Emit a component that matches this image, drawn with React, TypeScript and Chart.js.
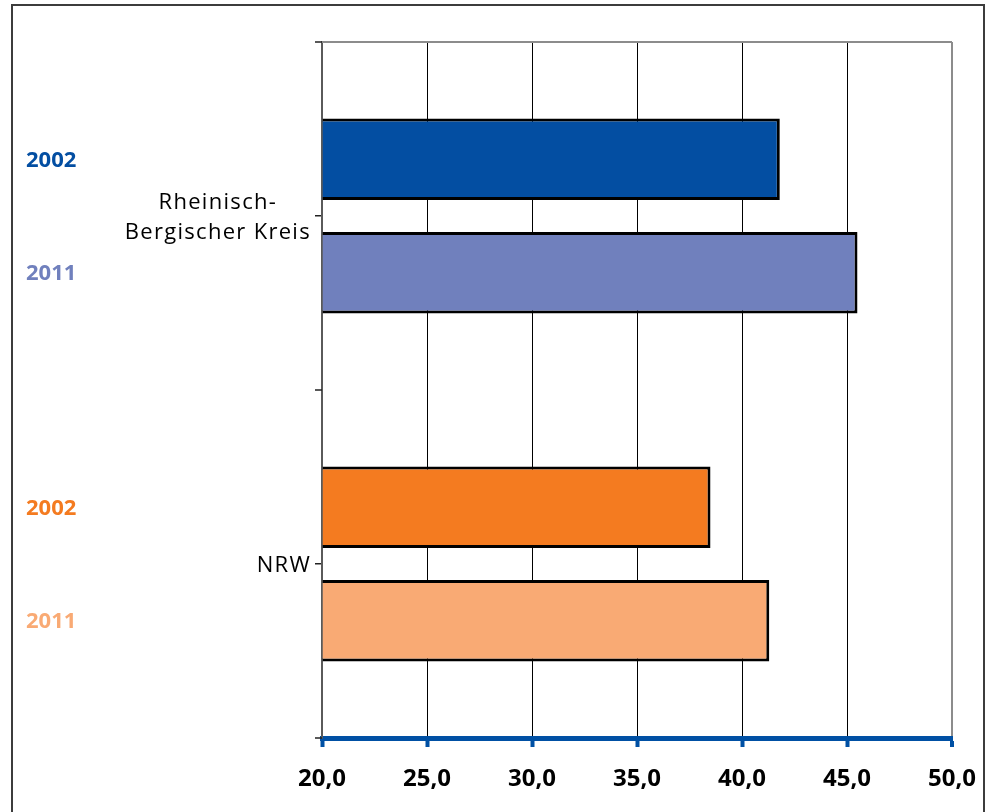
import React, { useEffect, useRef } from 'react';
import { Chart, registerables } from 'chart.js';

Chart.register(...registerables);

const categories: string[][] = [['Rheinisch-', 'Bergischer Kreis'], ['NRW']];
const seriesLabels = ['2002', '2011'];
const values2002 = [41.8, 38.5];
const values2011 = [45.5, 41.3];
const colors2002 = ['#034ea2', '#f47b20'];
const colors2011 = ['#7080bd', '#f9aa74'];
const xMin = 20;
const xMax = 50;
const xStep = 5;

const FONT = "'Open Sans', 'DejaVu Sans', sans-serif";

const decorPlugin = {
  id: 'decor',
  beforeDraw(chart: any) {
    const ctx = chart.ctx;
    ctx.save();
    ctx.fillStyle = '#ffffff';
    ctx.fillRect(0, 0, chart.width, chart.height);
    ctx.strokeStyle = '#3c3c3c';
    ctx.lineWidth = 2;
    ctx.strokeRect(12, 5, 972, 830);
    ctx.restore();
  },
  beforeDatasetsDraw(chart: any) {
    const { ctx, chartArea } = chart;
    ctx.save();
    ctx.strokeStyle = '#8c8c8c';
    ctx.lineWidth = 2;
    ctx.beginPath();
    ctx.moveTo(chartArea.left, chartArea.top);
    ctx.lineTo(chartArea.right, chartArea.top);
    ctx.stroke();
    const ys = chart.scales.y;
    const p0 = ys.getPixelForValue(0);
    const p1 = ys.getPixelForValue(1);
    const edges = [chartArea.top, (p0 + p1) / 2, chartArea.bottom];
    ctx.strokeStyle = '#222';
    ctx.lineWidth = 1.5;
    edges.forEach((e: number) => {
      ctx.beginPath();
      ctx.moveTo(chartArea.left - 7, e);
      ctx.lineTo(chartArea.left, e);
      ctx.stroke();
    });
    ctx.restore();
  },
  afterDraw(chart: any) {
    const { ctx, chartArea } = chart;
    const ys = chart.scales.y;
    ctx.save();
    // category labels: lines centered within block, block right-aligned
    ctx.font = `22px ${FONT}`;
    try {
      (ctx as any).letterSpacing = '1.3px';
    } catch (e) {}
    ctx.fillStyle = '#000';
    ctx.textAlign = 'center';
    ctx.textBaseline = 'middle';
    const lineH = 30;
    (chart.data.labels as string[][]).forEach((lines, i) => {
      const cy = ys.getPixelForValue(i) + 2;
      const widest = Math.max(...lines.map((l) => ctx.measureText(l).width));
      const cx = chartArea.left - 11 - widest / 2;
      lines.forEach((l, j) => {
        ctx.fillText(l, cx, cy + (j - (lines.length - 1) / 2) * lineH);
      });
    });
    try {
      (ctx as any).letterSpacing = '0px';
    } catch (e) {}
    // year labels next to bars, coloured like the bar
    ctx.font = `bold 22px ${FONT}`;
    ctx.textAlign = 'left';
    chart.data.datasets.forEach((ds: any, d: number) => {
      const meta = chart.getDatasetMeta(d);
      meta.data.forEach((el: any, i: number) => {
        ctx.fillStyle = ds.backgroundColor[i];
        ctx.fillText(ds.label, 26, el.y + 1);
      });
    });
    ctx.restore();
  },
};

export default function App() {
  const ref = useRef<HTMLCanvasElement | null>(null);

  useEffect(() => {
    if (!ref.current) return;
    const chart = new Chart(ref.current, {
      type: 'bar',
      data: {
        labels: categories as any,
        datasets: [
          {
            label: seriesLabels[0],
            data: values2002,
            backgroundColor: colors2002,
            borderColor: '#000',
            borderWidth: 3,
            base: xMin,
          } as any,
          {
            label: seriesLabels[1],
            data: values2011,
            backgroundColor: colors2011,
            borderColor: '#000',
            borderWidth: 3,
            base: xMin,
          } as any,
        ],
      },
      options: {
        indexAxis: 'y',
        responsive: false,
        animation: false,
        categoryPercentage: 0.652,
        barPercentage: 0.72,
        layout: { padding: { left: 0, right: 34, top: 42, bottom: 0 } },
        plugins: {
          legend: { display: false },
          tooltip: { enabled: false },
        },
        scales: {
          x: {
            type: 'linear',
            min: xMin,
            max: xMax,
            afterFit: (s: any) => {
              s.height = 74;
              s.paddingLeft = 0;
              s.paddingRight = 0;
            },
            ticks: {
              stepSize: xStep,
              color: '#000',
              padding: 18,
              font: { family: FONT, size: 24, weight: 'bold' },
              callback: (v: any) => Number(v).toFixed(1).replace('.', ','),
            },
            grid: {
              color: (c: any) => (c.tick && c.tick.value === xMax ? '#8c8c8c' : c.tick && c.tick.value === xMin ? 'rgba(0,0,0,0)' : '#000'),
              lineWidth: (c: any) => (c.tick && c.tick.value === xMax ? 2 : 1),
              tickColor: '#0050a4',
              tickWidth: 4,
              tickLength: 9,
            },
            border: { display: true, color: '#0050a4', width: 5 },
          },
          y: {
            type: 'category',
            afterFit: (s: any) => {
              s.width = 322;
            },
            ticks: { display: false },
            grid: {
              offset: false,
              drawOnChartArea: false,
              drawTicks: true,
              tickLength: 7,
              color: '#222',
              lineWidth: 1.5,
            },
            border: { display: true, color: '#5a5a5a', width: 2 },
          },
        },
      } as any,
      plugins: [decorPlugin],
    });
    return () => chart.destroy();
  }, []);

  return (
    <div style={{ position: 'fixed', left: 0, top: 0, width: 986, height: 812, background: '#fff' }}>
      <canvas ref={ref} width={986} height={812} style={{ display: 'block' }} />
    </div>
  );
}
